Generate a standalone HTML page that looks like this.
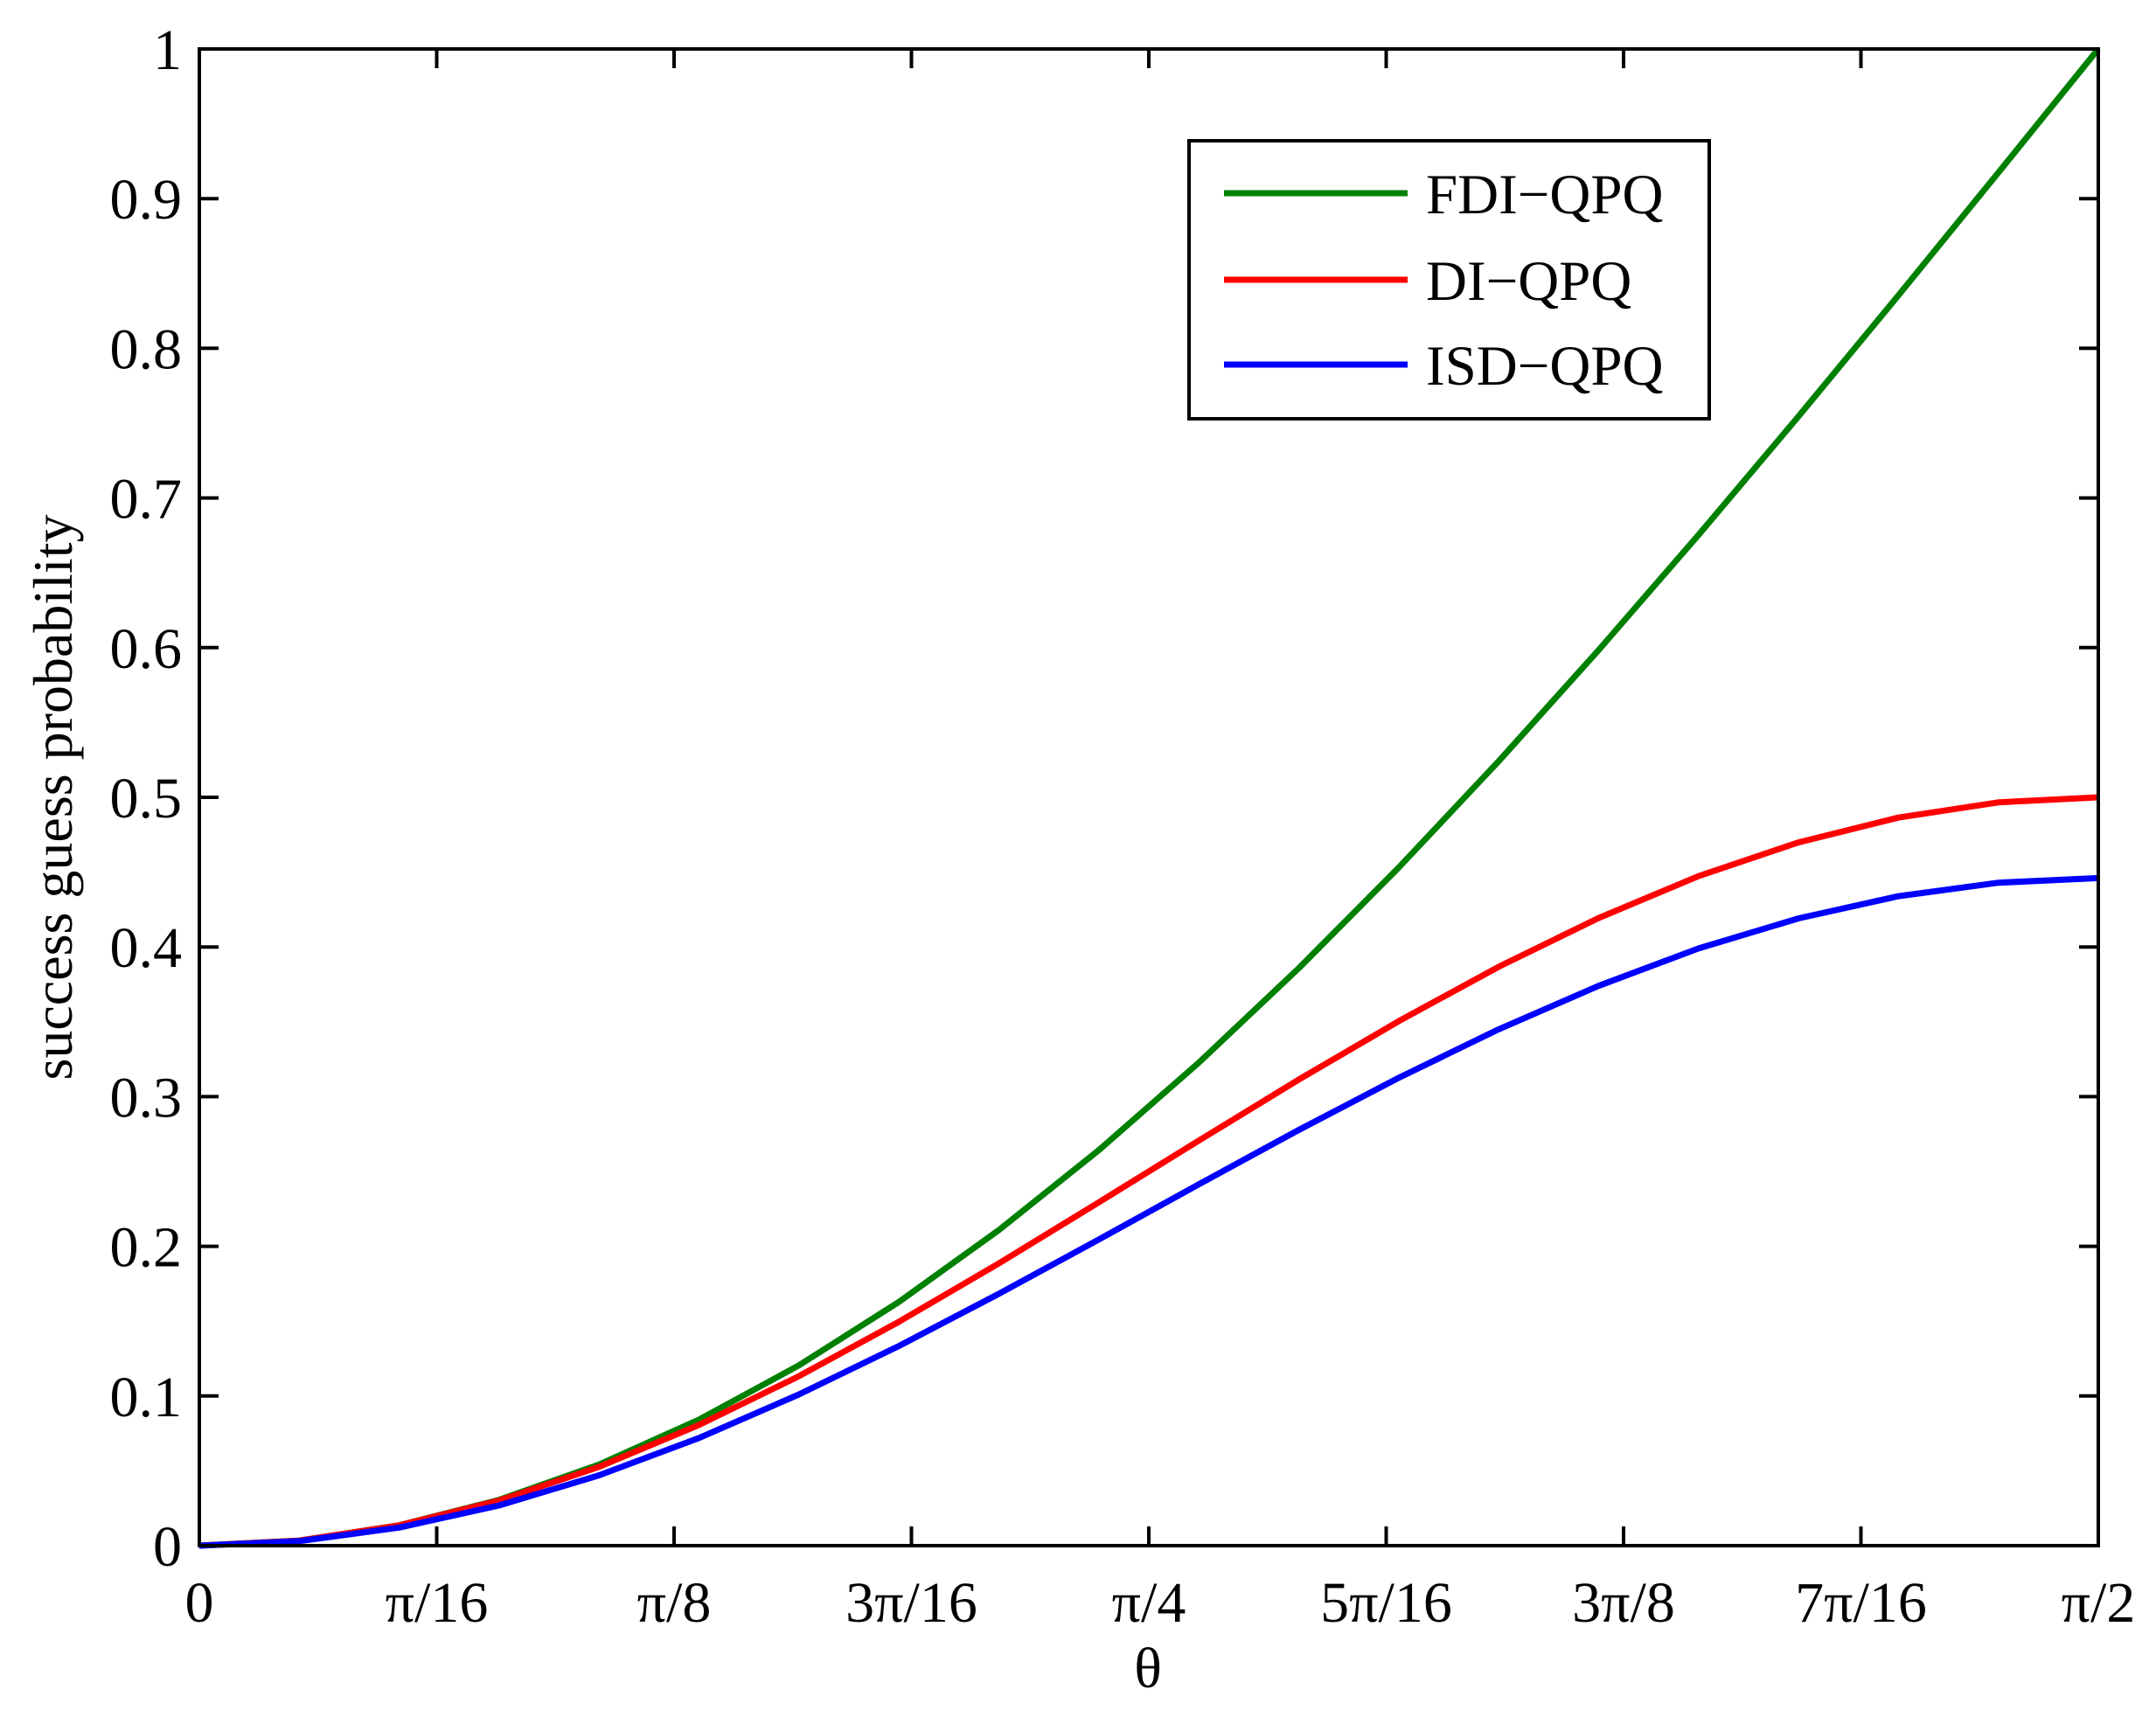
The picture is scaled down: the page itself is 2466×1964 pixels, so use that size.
<!DOCTYPE html>
<html><head><meta charset="utf-8"><style>
html,body{margin:0;padding:0;background:#fff;}
svg{display:block;}
text{font-family:"Liberation Serif",serif;fill:#000;}
</style></head><body>
<svg id="s" width="2466" height="1964" xmlns="http://www.w3.org/2000/svg">
<rect width="2466" height="1964" fill="#fff"/>
<g id="g"></g>
<rect x="228" y="56" width="2172" height="1712" fill="none" stroke="#000" stroke-width="4"/>
<rect x="1360" y="161" width="595" height="318" fill="#fff" stroke="#000" stroke-width="4"/>
<line x1="1400" y1="221" x2="1610" y2="221" stroke="#008000" stroke-width="7"/>
<line x1="1400" y1="320" x2="1610" y2="320" stroke="#ff0000" stroke-width="7"/>
<line x1="1400" y1="417" x2="1610" y2="417" stroke="#0000ff" stroke-width="7"/>
<text x="1631" y="244" font-size="65">FDI−QPQ</text>
<text x="1631" y="343" font-size="65">DI−QPQ</text>
<text x="1631" y="440" font-size="65">ISD−QPQ</text>
<text x="1313" y="1930" font-size="66" text-anchor="middle">θ</text>
<text transform="translate(82,912) rotate(-90)" font-size="64" text-anchor="middle">success guess probability</text>
</svg>
<script>
var L=228,R=2400,T=56,B=1768,g=document.getElementById('g'),h='';
function X(t){return L+(R-L)*t/(Math.PI/2);}function Y(v){return B-(B-T)*v;}
for(var i=0;i<=10;i++){var y=Y(i/10);
h+='<line x1="'+L+'" y1="'+y+'" x2="'+(L+22)+'" y2="'+y+'" stroke="#000" stroke-width="4"/>';
h+='<line x1="'+R+'" y1="'+y+'" x2="'+(R-22)+'" y2="'+y+'" stroke="#000" stroke-width="4"/>';
var lab=i==0?'0':(i==10?'1':'0.'+i);
h+='<text x="208" y="'+(y+23)+'" font-size="66" text-anchor="end">'+lab+'</text>';}
var xl=['0','π/16','π/8','3π/16','π/4','5π/16','3π/8','7π/16','π/2'];
for(var i=0;i<=8;i++){var x=L+(R-L)*i/8;
h+='<line x1="'+x+'" y1="'+B+'" x2="'+x+'" y2="'+(B-22)+'" stroke="#000" stroke-width="4"/>';
h+='<line x1="'+x+'" y1="'+T+'" x2="'+x+'" y2="'+(T+22)+'" stroke="#000" stroke-width="4"/>';
h+='<text x="'+x+'" y="1855" font-size="66" text-anchor="middle">'+xl[i]+'</text>';}
var fs=[[function(t){return 1-Math.cos(t);},'#008000'],[function(t){return 0.5*Math.pow(Math.sin(t),2);},'#ff0000'],[function(t){return 0.446*Math.pow(Math.sin(t),2);},'#0000ff']];
fs.forEach(function(f){var p=[];for(var k=0;k<20;k++){var t=k/19*Math.PI/2;p.push(X(t).toFixed(1)+','+Y(f[0](t)).toFixed(1));}
h+='<polyline points="'+p.join(' ')+'" fill="none" stroke="'+f[1]+'" stroke-width="7" stroke-linejoin="round"/>';});
g.innerHTML=h;
</script>
</body></html>
